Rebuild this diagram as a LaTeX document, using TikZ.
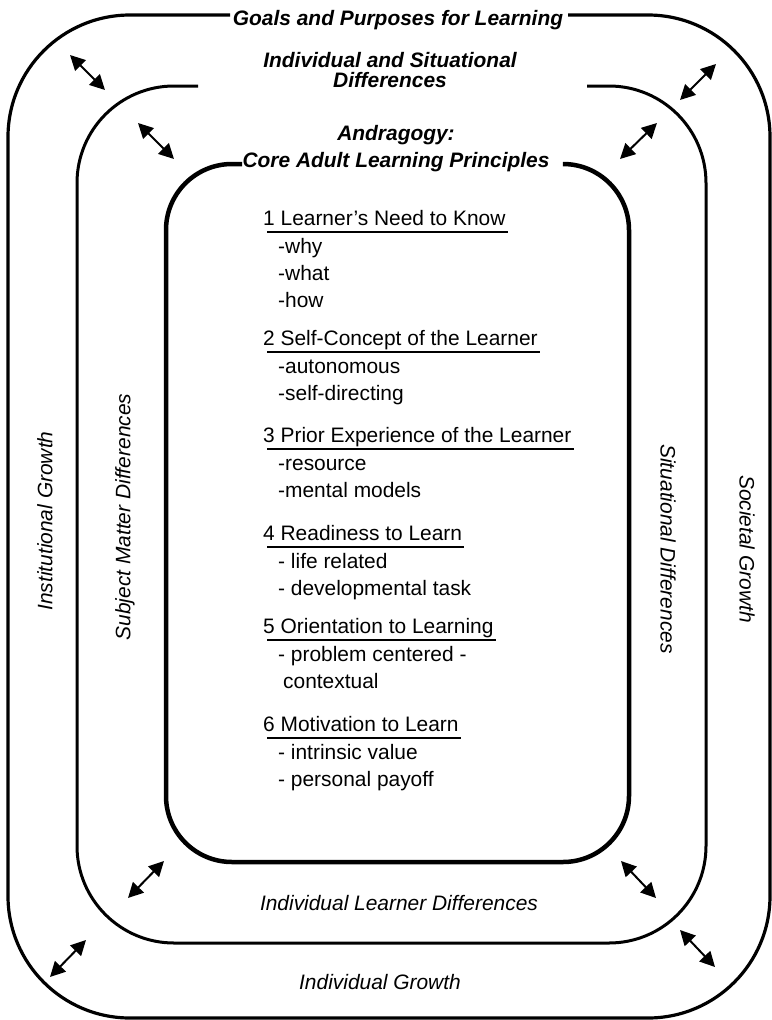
\documentclass[tikz,border=0pt]{standalone}
\usepackage{fontspec}
\setmainfont{Liberation Sans}
\usetikzlibrary{arrows.meta,calc}
\tikzset{
  boxO/.style={line width=3.2bp},
  boxM/.style={line width=3bp},
  boxI/.style={line width=4.5bp},
  dbl/.style={line width=2bp,{Triangle[length=15bp,width=15bp]}-{Triangle[length=15bp,width=15bp]}},
  ttl/.style={font=\fontsize{21}{23}\selectfont\bfseries\itshape,inner sep=0},
  lbl/.style={font=\fontsize{21}{23}\selectfont\itshape,inner sep=0},
  txt/.style={font=\fontsize{21}{23}\selectfont,inner sep=0,anchor=base west},
  uline/.style={line width=1.3bp},
}
\begin{document}
\begin{tikzpicture}[x=1bp,y=-1bp]
\useasboundingbox (0,0) rectangle (772,1020);
% frames
\draw[boxO,rounded corners=122bp] (230,15) -- (8,15) -- (8,1018) -- (770,1018) -- (770,15) -- (568,15);
\draw[boxM,rounded corners=97bp] (198,86) -- (77,86) -- (77,943) -- (706,943) -- (706,86) -- (587,86);
\draw[boxI,rounded corners=66bp] (242,164) -- (166,164) -- (166,862) -- (629,862) -- (629,164) -- (563,164);
% titles
\node[ttl,anchor=base] (goals) at (398,25) {Goals and Purposes for Learning};
\node[ttl,anchor=base] (isd1) at (390,67) {Individual and Situational};
\node[ttl,anchor=base] (isd2) at (390,87) {Differences};
\node[ttl,anchor=base] (andr1) at (396,140) {Andragogy:};
\node[ttl,anchor=base] (andr2) at (396,167) {Core Adult Learning Principles};
% side and bottom labels
\node[lbl,anchor=base] (ild) at (399,910) {Individual Learner Differences};
\node[lbl,anchor=base] (ig) at (380,989) {Individual Growth};
\node[lbl,rotate=90] (instg) at (45,521) {Institutional Growth};
\node[lbl,rotate=90] (smd) at (125,517) {Subject Matter Differences};
\node[lbl,rotate=-90] (sitd) at (668,549) {Situational Differences};
\node[lbl,rotate=-90] (socg) at (747,549) {Societal Growth};
% principles
\node[txt] (h1) at (263,225) {1 Learner’s Need to Know};
\node[txt] (h1a) at (278,253) {-why};
\node[txt] (h1b) at (278,280) {-what};
\node[txt] (h1c) at (278,307) {-how};
\node[txt] (h2) at (263,345) {2 Self-Concept of the Learner};
\node[txt] (h2a) at (278,373) {-autonomous};
\node[txt] (h2b) at (278,400) {-self-directing};
\node[txt] (h3) at (263,442) {3 Prior Experience of the Learner};
\node[txt] (h3a) at (278,470) {-resource};
\node[txt] (h3b) at (278,497) {-mental models};
\node[txt] (h4) at (263,540) {4 Readiness to Learn};
\node[txt] (h4a) at (278,568) {- life related};
\node[txt] (h4b) at (278,595) {- developmental task};
\node[txt] (h5) at (263,633) {5 Orientation to Learning};
\node[txt] (h5a) at (278,661) {- problem centered -};
\node[txt] (h5b) at (283,688) {contextual};
\node[txt] (h6) at (263,731) {6 Motivation to Learn};
\node[txt] (h6a) at (278,759) {- intrinsic value};
\node[txt] (h6b) at (278,786) {- personal payoff};
\foreach \h in {h1,h2,h3,h4,h5,h6}
  \draw[uline] ($(\h.base west)+(4,7)$) -- ($(\h.base east)+(2,7)$);
% double arrows
\coordinate (a1s) at (70,55);   \coordinate (a1e) at (105,90);
\coordinate (a2s) at (138,123); \coordinate (a2e) at (174,159);
\coordinate (a3s) at (680,100); \coordinate (a3e) at (716,64);
\coordinate (a4s) at (620,159); \coordinate (a4e) at (657,123);
\coordinate (a5s) at (128,898); \coordinate (a5e) at (164,861);
\coordinate (a6s) at (50,977);  \coordinate (a6e) at (86,940);
\coordinate (a7s) at (621,861); \coordinate (a7e) at (656,898);
\coordinate (a8s) at (680,930); \coordinate (a8e) at (715,967);
\foreach \i in {1,...,8}
  \draw[dbl] (a\i s) -- (a\i e);
\end{tikzpicture}
\end{document}
